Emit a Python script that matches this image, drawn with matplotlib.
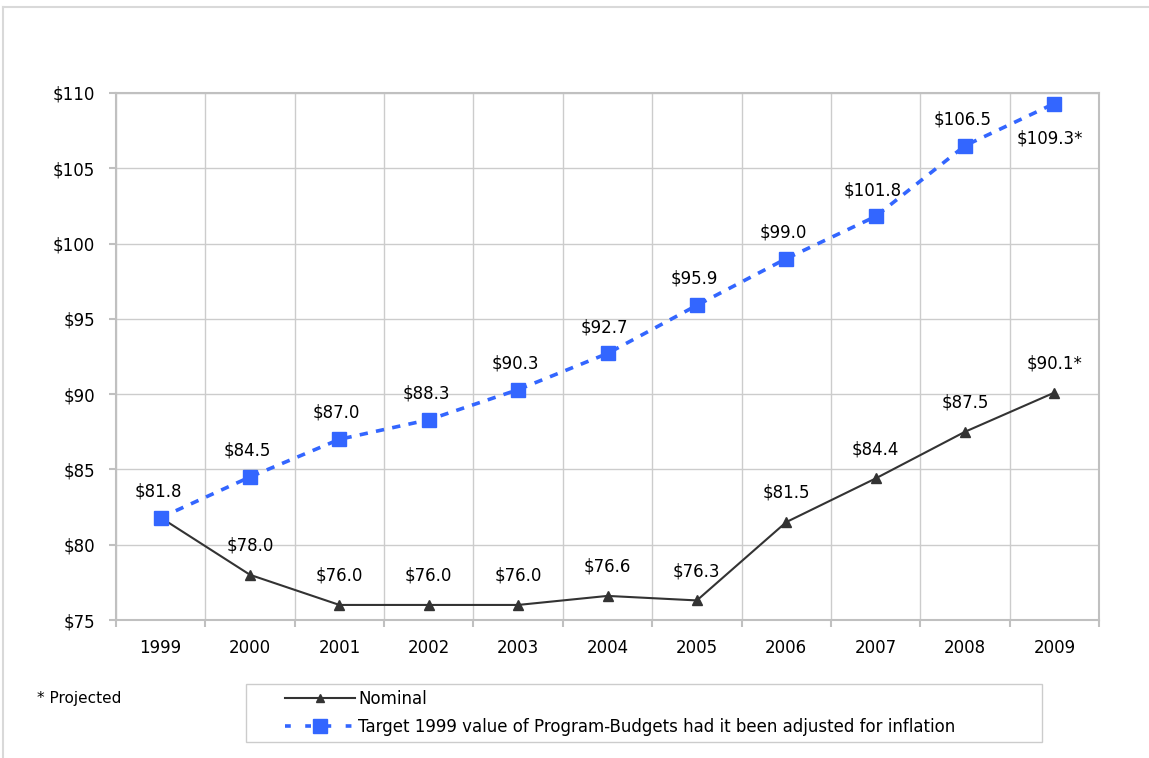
import matplotlib.pyplot as plt
from matplotlib.lines import Line2D
from matplotlib.patches import Rectangle

years = ['1999', '2000', '2001', '2002', '2003', '2004', '2005', '2006', '2007', '2008', '2009']
nominal = [81.8, 78.0, 76.0, 76.0, 76.0, 76.6, 76.3, 81.5, 84.4, 87.5, 90.1]
target = [81.8, 84.5, 87.0, 88.3, 90.3, 92.7, 95.9, 99.0, 101.8, 106.5, 109.3]
nominal_labels = ['', '$78.0', '$76.0', '$76.0', '$76.0', '$76.6', '$76.3', '$81.5', '$84.4', '$87.5', '$90.1*']
target_labels = ['$81.8', '$84.5', '$87.0', '$88.3', '$90.3', '$92.7', '$95.9', '$99.0', '$101.8', '$106.5', '$109.3*']
y_ticks = [75, 80, 85, 90, 95, 100, 105, 110]

plt.rcParams['font.family'] = ['DejaVu Sans']
FS = 12
GRID = '#cccccc'
SPINE = '#c0c0c0'
BLUE = '#3366ff'
DARK = '#333333'

fig = plt.figure(figsize=(11.49, 7.58), dpi=100)
ax = fig.add_axes([116 / 1149, 1 - 620 / 758, 983 / 1149, 527 / 758])

xs = list(range(len(years)))
ax.plot(xs, nominal, color=DARK, lw=1.5, marker='^', ms=7, zorder=3)
ax.plot(xs, target, color=BLUE, lw=2.6, ls=(0, (2.3, 2.3)), marker='s', ms=9.5, zorder=4)

for x, y, t in zip(xs, nominal, nominal_labels):
    if t:
        ax.annotate(t, (x, y), xytext=(0, 21), textcoords='offset points',
                    ha='center', va='center', fontsize=FS)
for x, y, t in zip(xs, target, target_labels):
    if t.endswith('*'):
        ax.annotate(t, (x, y), xytext=(-3, -25), textcoords='offset points',
                    ha='center', va='center', fontsize=FS)
    else:
        ax.annotate(t, (x, y), xytext=(-2, 19), textcoords='offset points',
                    ha='center', va='center', fontsize=FS)

ax.set_xlim(-0.5, len(years) - 0.5)
ax.set_ylim(75, 110)
ax.set_yticks(y_ticks)
ax.set_yticklabels(['$%d' % v for v in y_ticks], fontsize=FS)
ax.set_xticks(xs)
ax.set_xticklabels(years, fontsize=FS)
ax.set_xticks([x - 0.5 for x in xs] + [len(years) - 0.5], minor=True)
ax.tick_params(axis='x', which='major', length=0, pad=14)
ax.tick_params(axis='x', which='minor', length=5, color=SPINE, width=1.5)
ax.tick_params(axis='y', length=5, color=SPINE, width=1.5, pad=10)
ax.grid(axis='y', which='major', color=GRID, lw=1)
ax.grid(axis='x', which='minor', color=GRID, lw=1)
ax.set_axisbelow(True)
for s in ax.spines.values():
    s.set_color(SPINE)
    s.set_linewidth(1.5)

# chart border (top and left only visible)
fig.add_artist(Line2D([3 / 1149, 1.0], [1 - 7 / 758] * 2, transform=fig.transFigure, color='#d9d9d9', lw=1.5))
fig.add_artist(Line2D([3 / 1149] * 2, [0, 1 - 7 / 758], transform=fig.transFigure, color='#d9d9d9', lw=1.5))

fig.text(37 / 1149, 1 - 698 / 758, '* Projected', fontsize=11, va='center', ha='left')

# legend
fig.add_artist(Rectangle((246 / 1149, 1 - 742 / 758), 796 / 1149, 58 / 758,
                         transform=fig.transFigure, fill=False, edgecolor='#cccccc', lw=1))
handles = [
    Line2D([], [], color=DARK, lw=1.5, marker='^', ms=6),
    Line2D([], [], color=BLUE, lw=2.6, ls=(0, (1.6, 4.0)), marker='s', ms=10),
]
fig.legend(handles, ['Nominal', 'Target 1999 value of Program-Budgets had it been adjusted for inflation'],
           loc='center left', bbox_to_anchor=(285 / 1149, 1 - 713 / 758), frameon=False,
           fontsize=FS, borderpad=0, borderaxespad=0, handlelength=4.2, handletextpad=0.2,
           labelspacing=0.6)

fig.savefig('out.png', dpi=100)
